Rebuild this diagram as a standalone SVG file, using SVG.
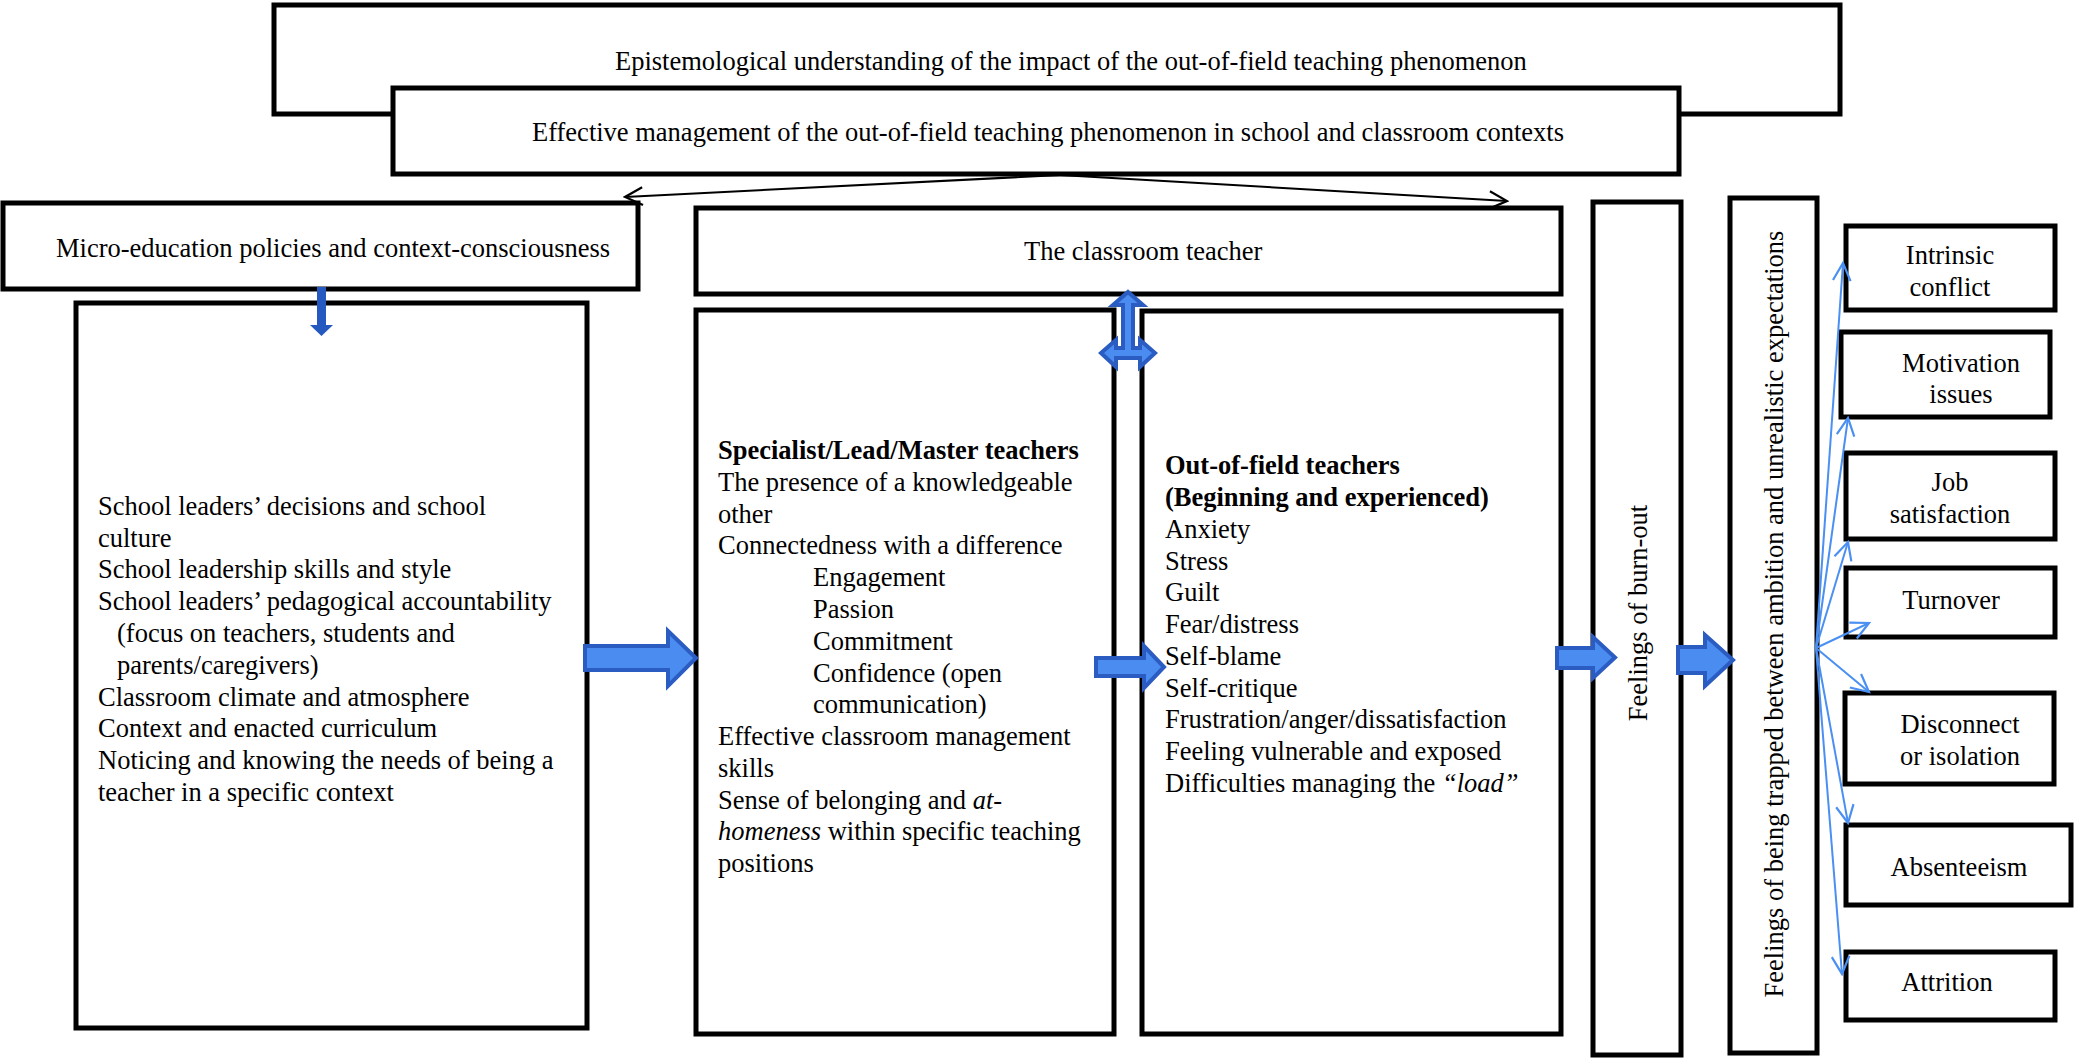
<svg xmlns="http://www.w3.org/2000/svg" width="2075" height="1063" viewBox="0 0 2075 1063">
<style>
.box{fill:#fff;stroke:#000;stroke-width:5}
.t{font-family:"Liberation Serif","Times New Roman",serif;font-size:26.5px;fill:#000}
.b{font-weight:bold}
.i{font-style:italic}
.blk{fill:#4a8cf0;stroke:#2a5cc2;stroke-width:4;stroke-linejoin:miter}
.fan{fill:none;stroke:#4a8ff2;stroke-width:2}
.thin{fill:none;stroke:#000;stroke-width:2}
</style>
<defs>
<marker id="vb" markerUnits="userSpaceOnUse" markerWidth="22" markerHeight="22" viewBox="0 0 20 20" refX="18" refY="10" orient="auto">
<path d="M2,2 L18,10 L2,18" fill="none" stroke="#4a8ff2" stroke-width="2"/>
</marker>
<marker id="vk" markerUnits="userSpaceOnUse" markerWidth="22" markerHeight="22" viewBox="0 0 20 20" refX="18" refY="10" orient="auto">
<path d="M2,2 L18,10 L2,18" fill="none" stroke="#000" stroke-width="2"/>
</marker>
</defs>

<g id="node-epistemological">
<rect class="box" x="274" y="5" width="1566" height="109"/>
<text class="t" x="615" y="70">Epistemological understanding of the impact of the out-of-field teaching phenomenon</text>
</g>
<g id="node-effective">
<rect class="box" x="393" y="88" width="1286" height="86"/>
<text class="t" x="532" y="141">Effective management of the out-of-field teaching phenomenon in school and classroom contexts</text>
</g>
<g id="node-micro">
<rect class="box" x="3" y="203" width="635" height="86"/>
<text class="t" x="56" y="257">Micro-education policies and context-consciousness</text>
</g>
<g id="node-teacher">
<rect class="box" x="696" y="208" width="865" height="86"/>
<text class="t" x="1024" y="260">The classroom teacher</text>
</g>
<g id="node-school">
<rect class="box" x="76" y="303" width="511" height="725"/>
<text class="t">
<tspan x="98" y="515">School leaders’ decisions and school</tspan>
<tspan x="98" y="547">culture</tspan>
<tspan x="98" y="578">School leadership skills and style</tspan>
<tspan x="98" y="610">School leaders’ pedagogical accountability</tspan>
<tspan x="117" y="642">(focus on teachers, students and</tspan>
<tspan x="117" y="674">parents/caregivers)</tspan>
<tspan x="98" y="706">Classroom climate and atmosphere</tspan>
<tspan x="98" y="737">Context and enacted curriculum</tspan>
<tspan x="98" y="769">Noticing and knowing the needs of being a</tspan>
<tspan x="98" y="801">teacher in a specific context</tspan>
</text>
</g>
<g id="node-specialist">
<rect class="box" x="696" y="310" width="418" height="724"/>
<text class="t">
<tspan class="b" x="718" y="459">Specialist/Lead/Master teachers</tspan>
<tspan x="718" y="491">The presence of a knowledgeable</tspan>
<tspan x="718" y="523">other</tspan>
<tspan x="718" y="554">Connectedness with a difference</tspan>
<tspan x="813" y="586">Engagement</tspan>
<tspan x="813" y="618">Passion</tspan>
<tspan x="813" y="650">Commitment</tspan>
<tspan x="813" y="682">Confidence (open</tspan>
<tspan x="813" y="713">communication)</tspan>
<tspan x="718" y="745">Effective classroom management</tspan>
<tspan x="718" y="777">skills</tspan>
<tspan x="718" y="809">Sense of belonging and <tspan class="i">at-</tspan></tspan>
<tspan x="718" y="840"><tspan class="i">homeness</tspan> within specific teaching</tspan>
<tspan x="718" y="872">positions</tspan>
</text>
</g>
<g id="node-outoffield">
<rect class="box" x="1142" y="311" width="419" height="723"/>
<text class="t">
<tspan class="b" x="1165" y="474">Out-of-field teachers</tspan>
<tspan class="b" x="1165" y="506">(Beginning and experienced)</tspan>
<tspan x="1165" y="538">Anxiety</tspan>
<tspan x="1165" y="570">Stress</tspan>
<tspan x="1165" y="601">Guilt</tspan>
<tspan x="1165" y="633">Fear/distress</tspan>
<tspan x="1165" y="665">Self-blame</tspan>
<tspan x="1165" y="697">Self-critique</tspan>
<tspan x="1165" y="728">Frustration/anger/dissatisfaction</tspan>
<tspan x="1165" y="760">Feeling vulnerable and exposed</tspan>
<tspan x="1165" y="792">Difficulties managing the <tspan class="i">“load”</tspan></tspan>
</text>
</g>
<g id="node-burnout">
<rect class="box" x="1593" y="202" width="88" height="853"/>
<text class="t" text-anchor="middle" transform="translate(1647,613) rotate(-90)" x="0" y="0">Feelings of burn-out</text>
</g>
<g id="node-trapped">
<rect class="box" x="1730" y="198" width="87" height="855"/>
<text class="t" text-anchor="middle" transform="translate(1783,614) rotate(-90)" x="0" y="0">Feelings of being trapped between ambition and unrealistic expectations</text>
</g>
<g id="node-intrinsic">
<rect class="box" x="1846" y="226" width="209" height="84"/>
<text class="t" text-anchor="middle"><tspan x="1950" y="264">Intrinsic</tspan><tspan x="1950" y="296">conflict</tspan></text>
</g>
<g id="node-motivation">
<rect class="box" x="1841" y="332" width="209" height="85"/>
<text class="t" text-anchor="middle"><tspan x="1961" y="372">Motivation</tspan><tspan x="1961" y="403">issues</tspan></text>
</g>
<g id="node-job">
<rect class="box" x="1846" y="453" width="209" height="86"/>
<text class="t" text-anchor="middle"><tspan x="1950" y="491">Job</tspan><tspan x="1950" y="523">satisfaction</tspan></text>
</g>
<g id="node-turnover">
<rect class="box" x="1846" y="568" width="209" height="69"/>
<text class="t" text-anchor="middle" x="1951" y="609">Turnover</text>
</g>
<g id="node-disconnect">
<rect class="box" x="1845" y="693" width="209" height="91"/>
<text class="t" text-anchor="middle"><tspan x="1960" y="733">Disconnect</tspan><tspan x="1960" y="765">or isolation</tspan></text>
</g>
<g id="node-absenteeism">
<rect class="box" x="1846" y="825" width="225" height="80"/>
<text class="t" text-anchor="middle" x="1959" y="876">Absenteeism</text>
</g>
<g id="node-attrition">
<rect class="box" x="1846" y="952" width="209" height="68"/>
<text class="t" text-anchor="middle" x="1947" y="991">Attrition</text>
</g>

<g id="connectors">
<line class="thin" x1="1060" y1="175" x2="625" y2="197" marker-end="url(#vk)"/>
<line class="thin" x1="1060" y1="175" x2="1507" y2="201" marker-end="url(#vk)"/>
<polygon points="317,287 326,287 326,325 333,325 321.5,336 310,325 317,325" fill="#2459c0"/>
<polygon class="blk" points="585,646 668,646 668,631 696,658 668,686 668,670 585,670"/>
<polygon class="blk" points="1096,658 1144,658 1144,646 1164,667 1144,688 1144,676 1096,676"/>
<polygon class="blk" points="1557,648 1593,648 1593,637 1615,657.5 1593,678 1593,668 1557,668"/>
<polygon class="blk" points="1678,647 1705,647 1705,635 1733,660 1705,686 1705,673 1678,673"/>
<polygon class="blk" stroke-width="3.5" points="1128,292 1143,305 1133,305 1133,348 1140,348 1140,340 1155,353 1140,367 1140,358 1116,358 1116,367 1101,353 1116,340 1116,348 1123,348 1123,305 1113,305"/>
<line class="fan" x1="1816" y1="648" x2="1843" y2="263" marker-end="url(#vb)"/>
<line class="fan" x1="1816" y1="648" x2="1848" y2="418" marker-end="url(#vb)"/>
<line class="fan" x1="1816" y1="648" x2="1848" y2="542" marker-end="url(#vb)"/>
<line class="fan" x1="1816" y1="648" x2="1869" y2="623" marker-end="url(#vb)"/>
<line class="fan" x1="1816" y1="648" x2="1869" y2="692" marker-end="url(#vb)"/>
<line class="fan" x1="1816" y1="648" x2="1848" y2="823" marker-end="url(#vb)"/>
<line class="fan" x1="1816" y1="648" x2="1842" y2="974" marker-end="url(#vb)"/>
</g>
</svg>
